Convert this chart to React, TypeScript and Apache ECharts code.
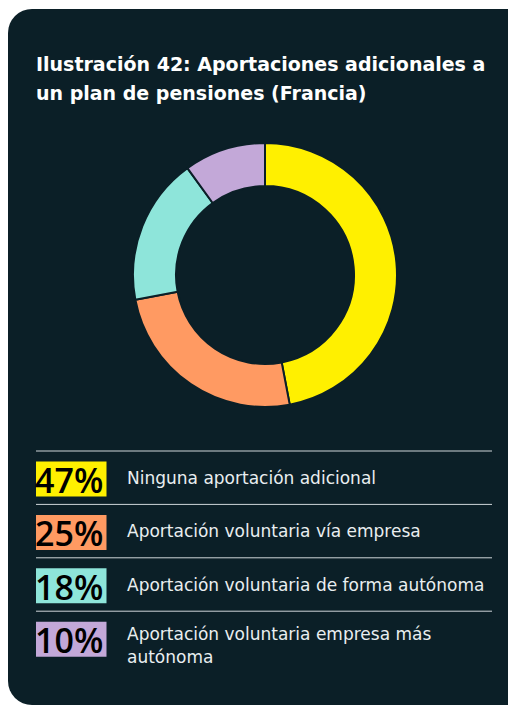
import React, { useEffect, useRef } from "react";
import * as echarts from "echarts";

const titleLines = ["Ilustración 42: Aportaciones adicionales a", "un plan de pensiones (Francia)"];
const categories = [
  "Ninguna aportación adicional",
  "Aportación voluntaria vía empresa",
  "Aportación voluntaria de forma autónoma",
  "Aportación voluntaria empresa más\nautónoma",
];
const values = [47, 25, 18, 10];
const colors = ["#fff000", "#ff9a62", "#8ee5da", "#c3a8d8"];

const BG = "#0b1f27";
const FONT = "'DejaVu Sans', sans-serif";
const PFONT = "'Open Sans', sans-serif";

export default function App() {
  const ref = useRef<HTMLDivElement>(null);
  useEffect(() => {
    if (!ref.current) return;
    const chart = echarts.init(ref.current, null, { renderer: "svg" });
    const rowTop = 451;
    const rowH = 53.4;
    const legend: any[] = [];
    categories.forEach((c, i) => {
      const y = rowTop + i * rowH;
      legend.push({
        type: "line",
        shape: { x1: 36, y1: y, x2: 492, y2: y },
        style: { stroke: "#cfd6d9", lineWidth: 1 },
      });
      legend.push({
        type: "rect",
        shape: { x: 36, y: y + 10.5, width: 70.5, height: 35 },
        style: { fill: colors[i] },
      });
      legend.push({
        type: "text",
        x: 35,
        y: y + 29,
        style: {
          text: values[i] + "%",
          fill: "#000",
          font: `600 34px ${PFONT}`,
          textVerticalAlign: "middle",
          textAlign: "left",
        },
      });
      legend.push({
        type: "text",
        x: 127,
        y: i === 3 ? y + 11 : y + 27,
        style: {
          text: c,
          fill: "#e9eef0",
          font: `17px ${FONT}`,
          lineHeight: 23,
          textVerticalAlign: i === 3 ? "top" : "middle",
          textAlign: "left",
        },
      });
    });
    chart.setOption({
      animation: false,
      backgroundColor: "#ffffff",
      graphic: [
        {
          type: "rect",
          z: -10,
          shape: { x: 8, y: 9, width: 530, height: 696, r: 24 },
          style: { fill: BG },
        },
        ...titleLines.map((t, i) => ({
          type: "text",
          x: 36,
          y: 64 + i * 29,
          style: {
            text: t,
            fill: "#ffffff",
            font: `bold 19px ${FONT}`,
            textVerticalAlign: "middle",
          },
        })),
        ...legend,
      ],
      series: [
        {
          type: "pie",
          center: [265, 275],
          radius: [89, 132],
          startAngle: 90,
          clockwise: true,
          label: { show: false },
          labelLine: { show: false },
          itemStyle: { borderColor: BG, borderWidth: 2 },
          emphasis: { disabled: true },
          data: values.map((v, i) => ({
            value: v,
            name: categories[i],
            itemStyle: { color: colors[i] },
          })),
        },
      ],
    });
    return () => chart.dispose();
  }, []);
  return (
    <div
      ref={ref}
      style={{ position: "fixed", left: 0, top: 0, width: 508, height: 706 }}
    />
  );
}
